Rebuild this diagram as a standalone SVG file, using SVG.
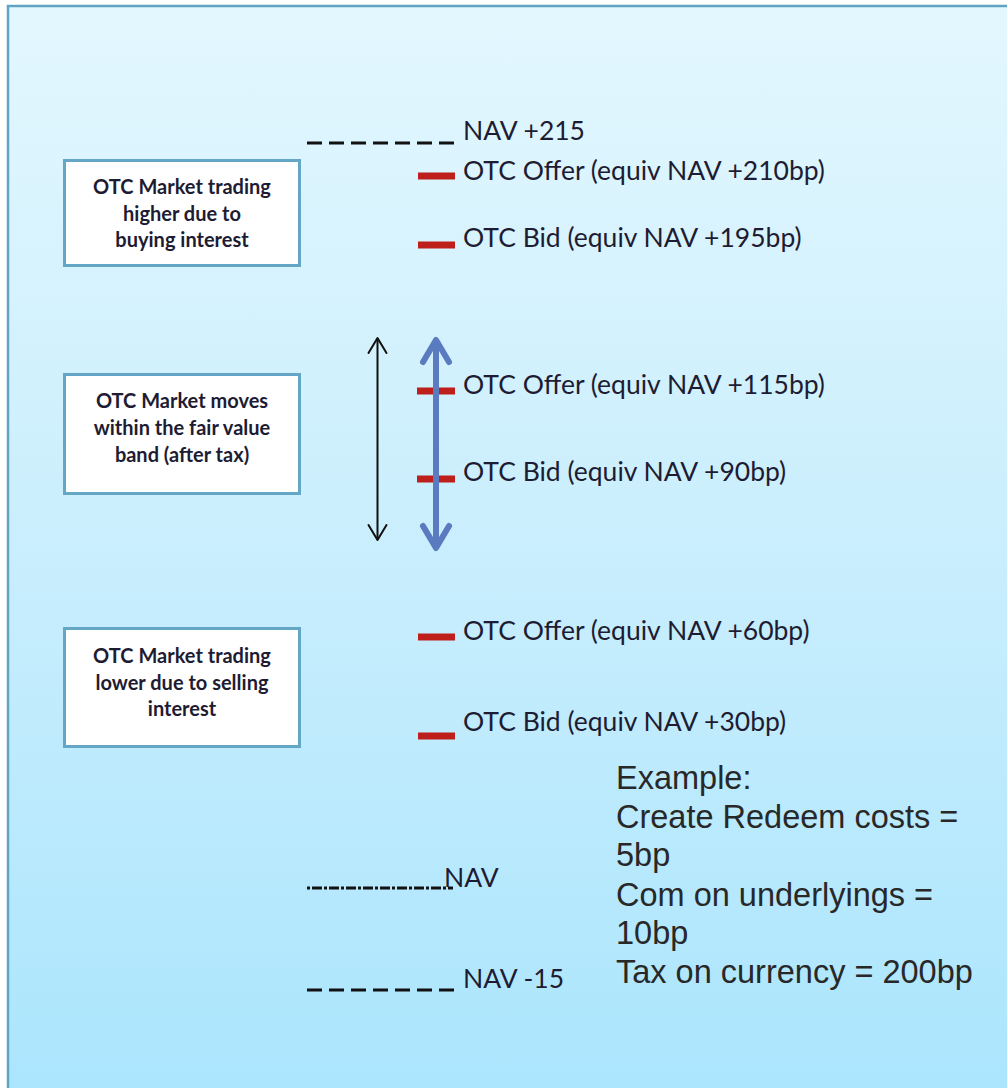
<svg xmlns="http://www.w3.org/2000/svg" width="1007" height="1088" viewBox="0 0 1007 1088">
  <defs>
    <linearGradient id="bg" x1="0" y1="0" x2="0" y2="1">
      <stop offset="0" stop-color="#e3f7fe"/>
      <stop offset="0.5" stop-color="#c9eefd"/>
      <stop offset="1" stop-color="#aae5fd"/>
    </linearGradient>
    <style>
      .box { fill: #ffffff; stroke: #64a6c6; stroke-width: 3; }
      .boxtxt { font-family: Lato, "Liberation Sans", sans-serif; font-weight: bold; font-size: 20px; fill: #1e1c33; text-anchor: middle; }
      .lbl { font-family: Lato, "Liberation Sans", sans-serif; font-size: 26.5px; fill: #1e1c33; }
      .tick { stroke: #be1f1a; stroke-width: 7; }
      .dash { stroke: #111; stroke-width: 3; fill: none; stroke-dasharray: 15 7; }
      .dashdot { stroke: #111; stroke-width: 3; fill: none; stroke-dasharray: 3 2 10 2; }
      .ex { font-family: "Liberation Sans", Arial, sans-serif; font-size: 32.5px; fill: #282828; }
    </style>
  </defs>

  <!-- page frame -->
  <rect x="0" y="0" width="1007" height="1088" fill="#ffffff"/>
  <rect x="8" y="6" width="1010" height="1100" fill="url(#bg)" stroke="#62a2c2" stroke-width="2.5"/>

  <!-- level markers (red ticks) -->
  <g id="ticks">
    <line class="tick" x1="418" y1="176" x2="455" y2="176"/>
    <line class="tick" x1="418" y1="245" x2="455" y2="245"/>
    <line class="tick" x1="417" y1="391" x2="455" y2="391"/>
    <line class="tick" x1="417" y1="479" x2="455" y2="479"/>
    <line class="tick" x1="418" y1="637" x2="455" y2="637"/>
    <line class="tick" x1="418" y1="736" x2="455" y2="736"/>
  </g>

  <!-- range arrows -->
  <g id="connectors" fill="none" stroke-linecap="round" stroke-linejoin="round">
    <g id="band-arrow-thin" stroke="#111" stroke-width="2">
      <line x1="377.5" y1="339" x2="377.5" y2="539"/>
      <polyline points="368.5,353 377.5,338 386.5,353"/>
      <polyline points="368.5,525 377.5,540 386.5,525"/>
    </g>
    <g id="band-arrow-thick" stroke="#5b7bc0" stroke-width="6">
      <line x1="436" y1="342" x2="436" y2="545"/>
      <polyline points="423,362 436,340 449,362"/>
      <polyline points="423,526 436,548 449,526"/>
    </g>
  </g>

  <!-- explanatory boxes -->
  <g id="box-higher">
    <rect class="box" x="64.5" y="160.5" width="235" height="105"/>
    <text class="boxtxt" x="182" y="194">OTC Market trading</text>
    <text class="boxtxt" x="182" y="221">higher due to</text>
    <text class="boxtxt" x="182" y="247">buying interest</text>
  </g>
  <g id="box-band">
    <rect class="box" x="64.5" y="374.5" width="235" height="119"/>
    <text class="boxtxt" x="182" y="408">OTC Market moves</text>
    <text class="boxtxt" x="182" y="435">within the fair value</text>
    <text class="boxtxt" x="182" y="462">band (after tax)</text>
  </g>
  <g id="box-lower">
    <rect class="box" x="64.5" y="628.5" width="235" height="118"/>
    <text class="boxtxt" x="182" y="663">OTC Market trading</text>
    <text class="boxtxt" x="182" y="690">lower due to selling</text>
    <text class="boxtxt" x="182" y="716">interest</text>
  </g>

  <!-- NAV reference lines -->
  <g id="nav-plus-215">
    <line class="dash" x1="307" y1="143" x2="454" y2="143"/>
    <text class="lbl" x="463" y="140">NAV +215</text>
  </g>
  <g id="nav">
    <line class="dashdot" x1="307" y1="888" x2="453" y2="888"/>
    <text class="lbl" x="444" y="887">NAV</text>
  </g>
  <g id="nav-minus-15">
    <line class="dash" x1="307" y1="990" x2="454" y2="990"/>
    <text class="lbl" x="463" y="988">NAV -15</text>
  </g>

  <!-- OTC quote labels -->
  <g id="offer-210"><text class="lbl" x="463" y="180">OTC Offer (equiv NAV +210bp)</text></g>
  <g id="bid-195"><text class="lbl" x="463" y="247">OTC Bid (equiv NAV +195bp)</text></g>
  <g id="offer-115"><text class="lbl" x="463" y="394">OTC Offer (equiv NAV +115bp)</text></g>
  <g id="bid-90"><text class="lbl" x="463" y="481">OTC Bid (equiv NAV +90bp)</text></g>
  <g id="offer-60"><text class="lbl" x="463" y="640">OTC Offer (equiv NAV +60bp)</text></g>
  <g id="bid-30"><text class="lbl" x="463" y="731">OTC Bid (equiv NAV +30bp)</text></g>

  <!-- cost example -->
  <g id="example">
    <text class="ex" x="616" y="789">Example:</text>
    <text class="ex" x="616" y="828">Create Redeem costs =</text>
    <text class="ex" x="616" y="866">5bp</text>
    <text class="ex" x="616" y="906">Com on underlyings =</text>
    <text class="ex" x="616" y="944">10bp</text>
    <text class="ex" x="616" y="983">Tax on currency = 200bp</text>
  </g>
</svg>
